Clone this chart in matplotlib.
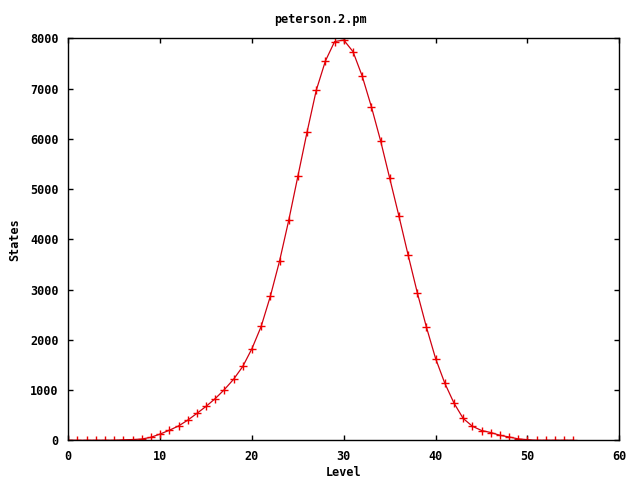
import matplotlib
matplotlib.use("Agg")
import matplotlib.pyplot as plt

levels = list(range(0, 56))
states = [0, 0, 0, 0, 0, 0, 10, 15, 25, 60,
          125, 200, 285, 400, 535, 675, 830, 1010, 1215, 1470,
          1825, 2265, 2865, 3565, 4375, 5255, 6135, 6965, 7550, 7935,
          7965, 7735, 7250, 6640, 5965, 5215, 4465, 3690, 2940, 2250,
          1625, 1135, 740, 435, 280, 195, 155, 100, 66, 28,
          13, 0, 0, 0, 0, 0]

title = "peterson.2.pm"
xlabel = "Level"
ylabel = "States"
xticks = [0, 10, 20, 30, 40, 50, 60]
yticks = [0, 1000, 2000, 3000, 4000, 5000, 6000, 7000, 8000]

font = {"family": "DejaVu Sans Mono", "weight": "bold", "size": 8.5}

fig = plt.figure(figsize=(6.4, 4.8), dpi=100)
ax = fig.add_axes([68.3 / 640, 1 - 440.3 / 480, (619.3 - 68.3) / 640, (440.3 - 38.3) / 480])

ax.plot(levels, states, color="#d00010", linewidth=0.9, marker="+",
        markersize=6, markeredgewidth=1.0, markeredgecolor="#f00000")

ax.set_xlim(0, 60)
ax.set_ylim(0, 8000)
ax.set_xticks(xticks)
ax.set_yticks(yticks)
ax.set_xticklabels([str(t) for t in xticks], fontdict=font)
ax.set_yticklabels([str(t) for t in yticks], fontdict=font)
ax.tick_params(direction="in", length=3.5, width=1, top=True, right=True,
               pad=7, colors="black")
for s in ax.spines.values():
    s.set_linewidth(1.0)
    s.set_color("black")

fig.text(0.5, 1 - 19 / 480, title, ha="center", va="center", **font)
fig.text((68.3 + 619.3) / 2 / 640, 1 - 473 / 480, xlabel, ha="center", va="center", **font)
fig.text(15 / 640, 1 - 240 / 480, ylabel, ha="center", va="center", rotation=90, **font)

fig.savefig("out.png", dpi=100)
